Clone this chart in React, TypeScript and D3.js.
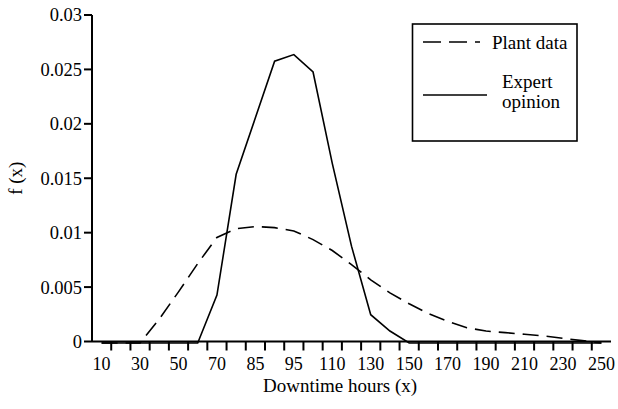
import * as d3 from "d3";
import React from "react";

// x categories (labels only shown on every other one)
const categories = [
  10, 20, 30, 40, 50, 60, 70, 80, 85, 90, 95, 100, 110, 120, 130, 140, 150,
  160, 170, 180, 190, 200, 210, 220, 230, 240, 250,
];
const shownLabels = [10, 30, 50, 70, 85, 95, 110, 130, 150, 170, 190, 210, 230, 250];

const plantData = [
  0, 0, 0, 0.0022, 0.0047, 0.0073, 0.0097, 0.0105, 0.0107, 0.0106, 0.0103,
  0.0095, 0.0085, 0.0072, 0.0058, 0.0046, 0.0036, 0.0027, 0.002, 0.0014,
  0.0011, 0.00095, 0.0008, 0.00065, 0.00043, 0.00022, 0,
];
const expertData = [
  0, 0, 0, 0, 0, 0, 0.0044, 0.0155, 0.0207, 0.0259, 0.0265, 0.0249, 0.0165,
  0.0089, 0.0026, 0.0011, 0, 0, 0, 0, 0, 0, 0, 0, 0, 0, 0,
];
const yTickValues = [0, 0.005, 0.01, 0.015, 0.02, 0.025, 0.03];

const width = 618;
const height = 409;
const marginLeft = 92;
const marginRight = 7;
const marginTop = 15;
const yAxisPos = 341.5;
const FONT = "Liberation Serif";

export default function App() {
  React.useEffect(() => {
    document.body.style.margin = "0";
  }, []);

  const x = d3
    .scaleBand<number>()
    .domain(categories)
    .range([marginLeft, width - marginRight])
    .padding(0);
  const bw = x.bandwidth();
  // data baseline sits a hair under the axis line, as in the original
  const y = d3.scaleLinear([0, 0.03], [yAxisPos + 1.5, marginTop + 1.5]);

  const line = d3
    .line<number>()
    .x((_, i) => (x(categories[i]) ?? 0) + bw / 2)
    .y((d) => y(d));

  return (
    <svg width={width} height={height} fontFamily={FONT}>
      {/* data lines */}
      <path
        d={line(plantData) ?? ""}
        fill="none"
        stroke="#000"
        strokeWidth={1.6}
        strokeDasharray="16,8"
      />
      <path d={line(expertData) ?? ""} fill="none" stroke="#000" strokeWidth={1.6} />

      {/* y axis */}
      <g>
        <line x1={marginLeft} x2={marginLeft} y1={marginTop} y2={yAxisPos} stroke="#000" strokeWidth={2} />
        {yTickValues.map((v) => {
          const ty = v === 0 ? yAxisPos : y(v) - 1.5;
          return (
            <g key={v} transform={`translate(0,${ty})`}>
              <line x1={marginLeft - 8} x2={marginLeft} stroke="#000" strokeWidth={2} />
              <text x={marginLeft - 10} dy="0.35em" textAnchor="end" fontSize={18.5} fontFamily={FONT}>
                {String(+v.toFixed(3))}
              </text>
            </g>
          );
        })}
        <text
          transform={`translate(22,${(marginTop + yAxisPos) / 2}) rotate(-90)`}
          textAnchor="middle"
          fontSize={19}
          fontFamily={FONT}
        >
          f (x)
        </text>
      </g>

      {/* x axis */}
      <g>
        <line x1={marginLeft} x2={width - marginRight} y1={yAxisPos} y2={yAxisPos} stroke="#000" strokeWidth={2} />
        {categories.slice(1).map((c) => (
          <line
            key={c}
            x1={x(c)}
            x2={x(c)}
            y1={yAxisPos}
            y2={yAxisPos + 9}
            stroke="#000"
            strokeWidth={2}
          />
        ))}
        {shownLabels.map((c) => (
          <text
            key={c}
            x={(x(c) ?? 0) + bw / 2}
            y={370}
            textAnchor="middle"
            fontSize={18}
            fontFamily={FONT}
          >
            {c}
          </text>
        ))}
        <text x={340} y={392} textAnchor="middle" fontSize={19} fontFamily={FONT}>
          Downtime hours (x)
        </text>
      </g>

      {/* legend */}
      <g>
        <rect x={412.5} y={24} width={164.5} height={117} fill="#fff" stroke="#000" strokeWidth={1.6} />
        <line x1={423} x2={480} y1={42} y2={42} stroke="#000" strokeWidth={1.6} strokeDasharray="18,8" />
        <text x={492} y={48.5} fontSize={19} fontFamily={FONT}>
          Plant data
        </text>
        <line x1={423} x2={487} y1={95} y2={95} stroke="#000" strokeWidth={1.6} />
        <text x={502} y={88} fontSize={19} fontFamily={FONT}>
          Expert
        </text>
        <text x={502} y={108} fontSize={19} fontFamily={FONT}>
          opinion
        </text>
      </g>
    </svg>
  );
}
